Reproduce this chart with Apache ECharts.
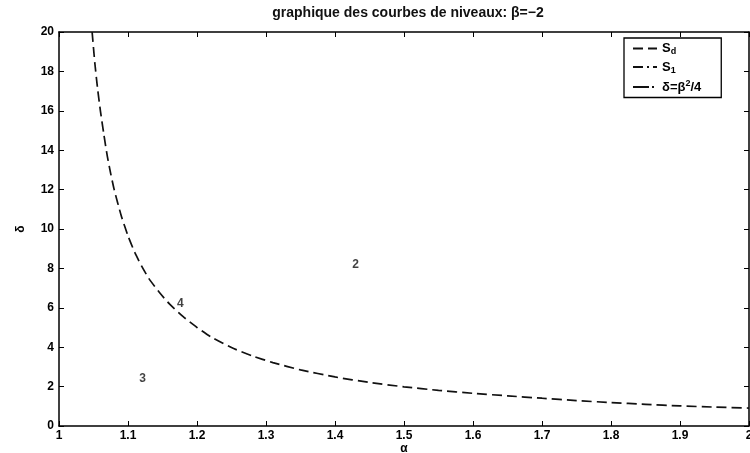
<!DOCTYPE html>
<html>
<head>
<meta charset="utf-8">
<script src="https://cdn.jsdelivr.net/npm/echarts@6/dist/echarts.min.js"></script>
<style>html,body{margin:0;padding:0;background:#fff;}#c{width:750px;height:453px;}</style>
</head>
<body>
<div id="c"></div>
<script>
// Level curve S_d
const alphaSd = [1.048,1.052,1.056,1.06,1.065,1.07,1.075,1.08,1.09,1.1,1.11,1.12,1.13,1.145,1.16,1.18,1.2,1.22,1.25,1.28,1.31,1.35,1.4,1.45,1.5,1.55,1.6,1.65,1.7,1.75,1.8,1.85,1.9,1.95,2.0];
const deltaSd = [20.0,18.4,17.1,16.0,14.8,13.7,12.8,12.0,10.7,9.65,8.8,8.1,7.5,6.8,6.2,5.55,5.0,4.53,3.98,3.56,3.22,2.85,2.49,2.21,1.99,1.81,1.66,1.53,1.41,1.29,1.19,1.1,1.02,0.96,0.91];
// Region labels
const regionNames = ['4','2','3'];
const regionAlpha = [1.176,1.430,1.121];
const regionDelta = [6.2,8.17,2.39];
const titleText = 'graphique des courbes de niveaux: β=−2';

const font = 'Liberation Sans, Arial, sans-serif';
const chart = echarts.init(document.getElementById('c'));
const tickCommon = {show:true, inside:true, length:5, lineStyle:{color:'#000', width:1}};
const lineCommon = {show:true, onZero:false, lineStyle:{color:'#000', width:1.5}};
chart.setOption({
  animation:false,
  backgroundColor:'#fff',
  title:{text:titleText, left:403, textAlign:'center', top:1,
    textStyle:{fontFamily:font, fontSize:14, fontWeight:'bold', color:'#111'}},
  grid:{left:59, right:1, top:32, bottom:27, show:false, containLabel:false, outerBoundsMode:'none'},
  legend:{
    orient:'vertical', left:624, top:38, itemWidth:24, itemHeight:10, itemGap:4,
    padding:[4,20,4,8], borderColor:'#000', borderWidth:1.3, backgroundColor:'#fff',
    itemStyle:{opacity:0},
    data:['Sd','S1','delta'],
    formatter:function(n){
      if(n==='Sd') return '{m|S}{s|d}';
      if(n==='S1') return '{m|S}{s|1}';
      return '{m|δ=β}{p|2}{m|/4}';
    },
    textStyle:{fontFamily:font, fontSize:13, fontWeight:'bold', color:'#000',
      rich:{m:{fontFamily:font, fontSize:13, fontWeight:'bold'},
            s:{fontFamily:font, fontSize:9, fontWeight:'bold', padding:[7,0,0,0]},
            p:{fontFamily:font, fontSize:9, fontWeight:'bold', padding:[0,0,7,0]}}}
  },
  xAxis:[
    {type:'value', min:1, max:2, interval:0.1, position:'bottom', name:'α', nameLocation:'middle', nameGap:17,
     nameMoveOverlap:false,
     nameTextStyle:{fontFamily:font, fontSize:12, fontWeight:'bold', color:'#000'},
     axisLine:lineCommon, axisTick:tickCommon, splitLine:{show:false},
     axisLabel:{fontFamily:font, fontSize:12, fontWeight:'bold', color:'#000', margin:4,
       formatter:function(v){return String(Math.round(v*10)/10);}}},
    {type:'value', min:1, max:2, interval:0.1, position:'top',
     axisLine:lineCommon, axisTick:tickCommon, splitLine:{show:false}, axisLabel:{show:false}}
  ],
  yAxis:[
    {type:'value', min:0, max:20, interval:2, position:'left', name:'δ', nameLocation:'middle', nameGap:32,
     nameRotate:90, nameMoveOverlap:false,
     nameTextStyle:{fontFamily:font, fontSize:12, fontWeight:'bold', color:'#000'},
     axisLine:lineCommon, axisTick:tickCommon, splitLine:{show:false},
     axisLabel:{fontFamily:font, fontSize:12, fontWeight:'bold', color:'#000', margin:5}},
    {type:'value', min:0, max:20, interval:2, position:'right',
     axisLine:lineCommon, axisTick:tickCommon, splitLine:{show:false}, axisLabel:{show:false}}
  ],
  series:[
    {name:'Sd', type:'line', showSymbol:false, symbol:'none', smooth:0.2,
     data:alphaSd.map((a,i)=>[a,deltaSd[i]]),
     lineStyle:{color:'#111', width:1.7, type:[10,5]}, itemStyle:{color:'#111'}},
    {name:'S1', type:'line', symbol:'none', data:[],
     lineStyle:{color:'#111', width:1.7, type:[10,4,2,4]}, itemStyle:{color:'#111'}},
    {name:'delta', type:'line', symbol:'none', data:[],
     lineStyle:{color:'#111', width:1.7, type:[16,3,2,3]}, itemStyle:{color:'#111'}},
    {name:'labels', type:'scatter', symbolSize:0, silent:true,
     data:regionNames.map((n,i)=>({name:n, value:[regionAlpha[i], regionDelta[i]]})),
     label:{show:true, position:'inside', formatter:'{b}', fontFamily:font, fontSize:12, fontWeight:'bold', color:'#111'}}
  ]
});
</script>
</body>
</html>
